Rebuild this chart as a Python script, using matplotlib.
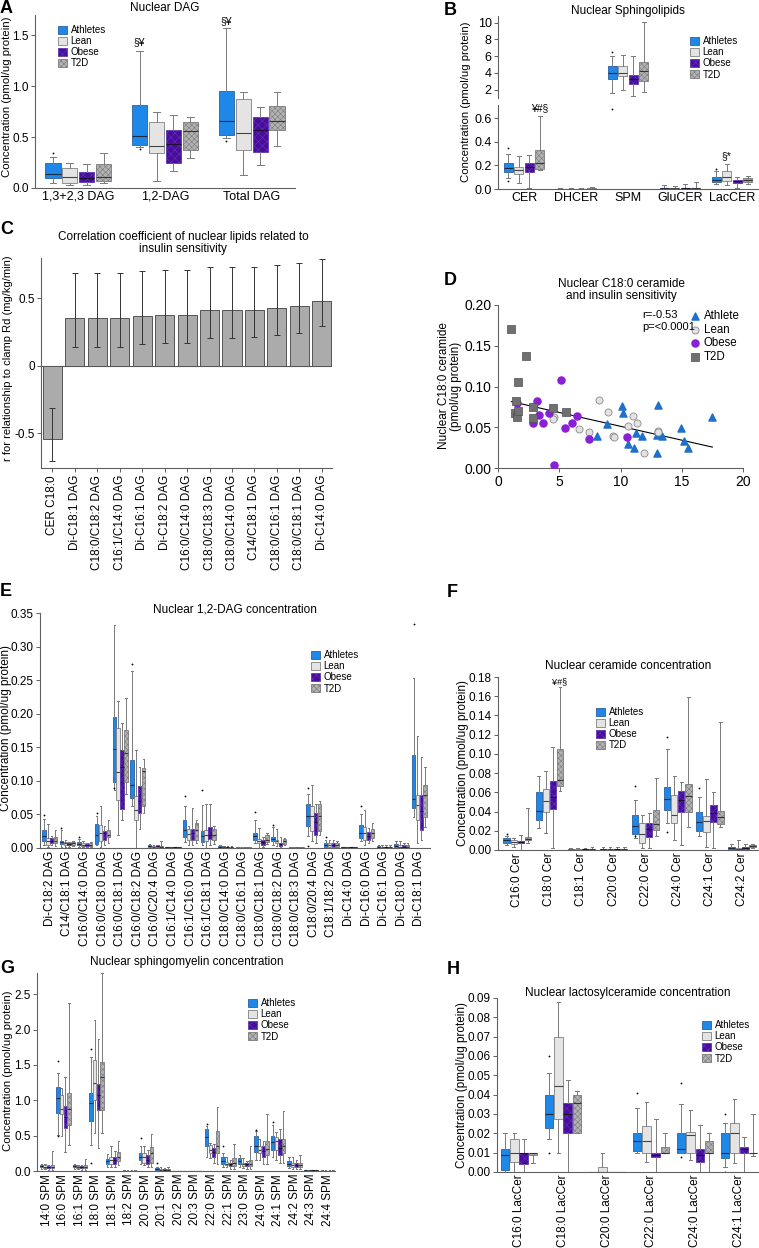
import numpy as np
import matplotlib
matplotlib.use("Agg")
import matplotlib.pyplot as plt
from matplotlib.patches import Patch

plt.rcParams['font.family'] = ['Liberation Sans', 'DejaVu Sans']
plt.rcParams['hatch.linewidth'] = 0.4

# ---------------- DATA ----------------
GROUPS = ['Athletes', 'Lean', 'Obese', 'T2D']

# box stats per category: (whisker low, q1, median, q3, whisker high)
A_categories = ['1,3+2,3 DAG', '1,2-DAG', 'Total DAG']
A_athletes = [(0.05, 0.10, 0.14, 0.25, 0.30), (0.40, 0.42, 0.51, 0.82, 1.35), (0.49, 0.52, 0.66, 0.95, 1.57)]
A_lean = [(0.03, 0.05, 0.11, 0.20, 0.25), (0.07, 0.34, 0.41, 0.65, 0.75), (0.13, 0.37, 0.54, 0.87, 0.94)]
A_obese = [(0.03, 0.06, 0.10, 0.16, 0.24), (0.17, 0.25, 0.43, 0.57, 0.72), (0.23, 0.35, 0.57, 0.70, 0.80)]
A_t2d = [(0.05, 0.07, 0.11, 0.24, 0.34), (0.29, 0.37, 0.56, 0.65, 0.70), (0.41, 0.57, 0.66, 0.81, 0.94)]
A_fliers = [(0, 0, 0.34), (0, 1, 0.38), (0, 2, 0.46)]           # (group, category, value)
A_marks = [(0, 1, '§¥', 1.43), (0, 2, '§¥', 1.64)]

B_categories = ['CER', 'DHCER', 'SPM', 'GluCER', 'LacCER']
B_athletes = [(0.09, 0.14, 0.18, 0.22, 0.30), (0.0, 0.001, 0.002, 0.003, 0.005), (1.6, 3.3, 4.0, 4.8, 6.0),
              (0.0, 0.003, 0.006, 0.01, 0.03), (0.04, 0.06, 0.075, 0.10, 0.15)]
B_lean = [(0.05, 0.13, 0.16, 0.19, 0.28), (0.0, 0.001, 0.002, 0.003, 0.005), (2.0, 3.6, 4.0, 4.8, 6.1),
          (0.0, 0.003, 0.006, 0.01, 0.025), (0.03, 0.07, 0.10, 0.15, 0.21)]
B_obese = [(0.01, 0.14, 0.19, 0.22, 0.29), (0.0, 0.001, 0.002, 0.003, 0.006), (1.2, 2.7, 3.3, 3.8, 6.0),
           (0.0, 0.003, 0.005, 0.01, 0.04), (0.01, 0.05, 0.065, 0.08, 0.10)]
B_t2d = [(0.16, 0.17, 0.22, 0.33, 0.62), (0.0, 0.001, 0.003, 0.005, 0.02), (1.7, 3.0, 4.2, 5.3, 10.1),
         (0.0, 0.003, 0.006, 0.01, 0.06), (0.04, 0.06, 0.075, 0.09, 0.11)]
B_fliers = [(0, 0, 0.35), (0, 0, 0.07), (0, 2, 6.5), (0, 2, 0.68), (0, 4, 0.17)]
B_marks = [(3, 0, '¥#§', 0.68), (1, 4, '§*', 0.28)]

C_labels = ['CER C18:0', 'Di-C18:1 DAG', 'C18:0/C18:2 DAG', 'C16:1/C14:0 DAG', 'Di-C16:1 DAG',
            'Di-C18:2 DAG', 'C16:0/C14:0 DAG', 'C18:0/C18:3 DAG', 'C18:0/C14:0 DAG', 'C14/C18:1 DAG',
            'C18:0/C16:1 DAG', 'C18:0/C18:1 DAG', 'Di-C14:0 DAG']
C_r = [-0.545, 0.356, 0.356, 0.356, 0.371, 0.378, 0.378, 0.41, 0.41, 0.415, 0.428, 0.445, 0.483]
C_lo = [-0.706, 0.139, 0.139, 0.139, 0.159, 0.169, 0.169, 0.206, 0.206, 0.211, 0.226, 0.244, 0.294]
C_hi = [-0.316, 0.687, 0.687, 0.690, 0.704, 0.709, 0.709, 0.734, 0.734, 0.736, 0.749, 0.764, 0.796]
C_yticks = [-0.5, 0, 0.5]
C_yticklabels = ['-0.5', '0', '0.5']

D_athlete_x = [8.11, 8.90, 10.10, 10.20, 10.58, 11.07, 11.29, 11.73, 12.95, 13.09, 13.36, 12.95, 14.91, 15.16, 15.51, 17.50]
D_athlete_y = [0.039, 0.054, 0.076, 0.068, 0.030, 0.025, 0.043, 0.039, 0.041, 0.077, 0.039, 0.018, 0.049, 0.033, 0.025, 0.062]
D_lean_x = [4.54, 4.49, 6.59, 7.40, 8.27, 8.98, 9.39, 9.50, 10.58, 10.99, 11.37, 11.89, 13.09, 13.09]
D_lean_y = [0.063, 0.060, 0.048, 0.044, 0.083, 0.069, 0.039, 0.038, 0.051, 0.064, 0.055, 0.018, 0.046, 0.044]
D_obese_x = [1.55, 3.16, 3.37, 2.88, 3.67, 4.16, 5.17, 5.47, 6.07, 6.48, 7.40, 4.55, 10.56]
D_obese_y = [0.080, 0.082, 0.065, 0.055, 0.055, 0.067, 0.108, 0.049, 0.055, 0.064, 0.036, 0.004, 0.038]
D_t2d_x = [1.09, 2.26, 1.66, 1.44, 1.36, 1.58, 1.66, 2.86, 2.86, 4.49, 5.58]
D_t2d_y = [0.171, 0.138, 0.105, 0.082, 0.068, 0.063, 0.070, 0.075, 0.061, 0.074, 0.069]
D_stats_text = 'r=-0.53\np=<0.0001'

E_categories = ['Di-C18:2 DAG', 'C14/C18:1 DAG', 'C16:0/C14:0 DAG', 'C16:0/C18:0 DAG', 'C16:0/C18:1 DAG',
                'C16:0/C18:2 DAG', 'C16:0/C20:4 DAG', 'C16:1/C14:0 DAG', 'C16:1/C16:0 DAG', 'C16:1/C18:1 DAG',
                'C18:0/C14:0 DAG', 'C18:0/C16:1 DAG', 'C18:0/C18:1 DAG', 'C18:0/C18:2 DAG', 'C18:0/C18:3 DAG',
                'C18:0/20:4 DAG', 'C18:1/18:2 DAG', 'Di-C14:0 DAG', 'Di-C16:0 DAG', 'Di-C16:1 DAG',
                'Di-C18:0 DAG', 'Di-C18:1 DAG']
E_athletes = [(0.005, 0.010, 0.018, 0.027, 0.043), (0.002, 0.006, 0.009, 0.011, 0.027), (0.002, 0.004, 0.006, 0.009, 0.014),
              (0.005, 0.006, 0.019, 0.036, 0.048), (0.087, 0.098, 0.147, 0.195, 0.332), (0.062, 0.074, 0.094, 0.131, 0.264),
              (0.001, 0.002, 0.003, 0.004, 0.006), (0.0, 0.0005, 0.001, 0.0015, 0.002), (0.009, 0.016, 0.027, 0.042, 0.062),
              (0.004, 0.009, 0.018, 0.026, 0.064), (0.0, 0.001, 0.002, 0.003, 0.004), (0.0, 0.0002, 0.0005, 0.001, 0.002),
              (0.008, 0.012, 0.018, 0.022, 0.042), (0.005, 0.010, 0.013, 0.017, 0.032), (0.0, 0.0002, 0.0005, 0.001, 0.002),
              (0.018, 0.033, 0.047, 0.065, 0.080), (0.001, 0.002, 0.005, 0.008, 0.012), (0.0, 0.0005, 0.001, 0.0015, 0.002),
              (0.010, 0.015, 0.022, 0.035, 0.051), (0.0, 0.001, 0.002, 0.003, 0.005), (0.0, 0.002, 0.003, 0.006, 0.010),
              (0.046, 0.060, 0.073, 0.139, 0.253)]
E_lean = [(0.002, 0.005, 0.010, 0.015, 0.036), (0.001, 0.004, 0.007, 0.009, 0.012), (0.001, 0.003, 0.005, 0.007, 0.010),
          (0.002, 0.010, 0.022, 0.035, 0.063), (0.019, 0.072, 0.113, 0.179, 0.219), (0.0, 0.042, 0.057, 0.077, 0.146),
          (0.0, 0.001, 0.002, 0.003, 0.005), (0.0, 0.0005, 0.001, 0.0015, 0.002), (0.005, 0.012, 0.021, 0.029, 0.033),
          (0.0, 0.010, 0.020, 0.027, 0.066), (0.0, 0.001, 0.0015, 0.002, 0.003), (0.0, 0.0002, 0.0005, 0.001, 0.002),
          (0.0, 0.008, 0.010, 0.013, 0.030), (0.003, 0.008, 0.010, 0.012, 0.028), (0.0, 0.0002, 0.0005, 0.001, 0.002),
          (0.010, 0.025, 0.048, 0.063, 0.094), (0.001, 0.002, 0.004, 0.007, 0.012), (0.0, 0.0005, 0.001, 0.0015, 0.002),
          (0.005, 0.012, 0.022, 0.032, 0.056), (0.0, 0.001, 0.0015, 0.002, 0.004), (0.0, 0.001, 0.002, 0.004, 0.011),
          (0.007, 0.042, 0.064, 0.079, 0.167)]
E_obese = [(0.005, 0.007, 0.011, 0.015, 0.018), (0.002, 0.004, 0.006, 0.008, 0.009), (0.002, 0.003, 0.005, 0.006, 0.008),
           (0.005, 0.012, 0.022, 0.026, 0.033), (0.042, 0.058, 0.120, 0.146, 0.186), (0.028, 0.052, 0.070, 0.092, 0.120),
           (0.001, 0.002, 0.003, 0.004, 0.005), (0.0, 0.0005, 0.001, 0.0015, 0.002), (0.005, 0.012, 0.022, 0.029, 0.060),
           (0.005, 0.013, 0.020, 0.032, 0.066), (0.0, 0.001, 0.0015, 0.002, 0.003), (0.0, 0.0002, 0.0005, 0.001, 0.002),
           (0.002, 0.005, 0.009, 0.012, 0.016), (0.002, 0.003, 0.006, 0.008, 0.016), (0.0, 0.0002, 0.0005, 0.001, 0.002),
           (0.008, 0.020, 0.038, 0.052, 0.065), (0.001, 0.002, 0.004, 0.008, 0.012), (0.0, 0.0005, 0.001, 0.0015, 0.002),
           (0.007, 0.012, 0.018, 0.024, 0.030), (0.0, 0.001, 0.0015, 0.002, 0.004), (0.0, 0.001, 0.002, 0.004, 0.008),
           (0.012, 0.027, 0.055, 0.079, 0.136)]
E_t2d = [(0.003, 0.007, 0.010, 0.016, 0.027), (0.003, 0.005, 0.007, 0.009, 0.011), (0.002, 0.003, 0.005, 0.007, 0.009),
         (0.008, 0.017, 0.020, 0.027, 0.041), (0.081, 0.098, 0.142, 0.176, 0.223), (0.052, 0.062, 0.114, 0.119, 0.132),
         (0.0, 0.001, 0.002, 0.003, 0.010), (0.0, 0.0005, 0.001, 0.0015, 0.002), (0.008, 0.012, 0.027, 0.037, 0.042),
         (0.006, 0.012, 0.020, 0.028, 0.033), (0.0, 0.001, 0.0015, 0.002, 0.003), (0.0, 0.0002, 0.0005, 0.001, 0.002),
         (0.006, 0.009, 0.012, 0.020, 0.022), (0.004, 0.006, 0.010, 0.013, 0.015), (0.0, 0.0002, 0.0005, 0.001, 0.002),
         (0.020, 0.025, 0.048, 0.065, 0.070), (0.001, 0.002, 0.004, 0.007, 0.010), (0.0, 0.0005, 0.001, 0.0015, 0.002),
         (0.010, 0.015, 0.022, 0.028, 0.037), (0.0, 0.001, 0.0015, 0.002, 0.004), (0.0, 0.001, 0.002, 0.004, 0.008),
         (0.031, 0.046, 0.079, 0.094, 0.121)]
E_fliers = [(0, 0, 0.049), (0, 1, 0.030), (0, 2, 0.016), (0, 3, 0.052), (0, 4, 0.090), (0, 5, 0.274), (0, 8, 0.077),
            (0, 9, 0.087), (0, 12, 0.054), (0, 13, 0.035), (0, 15, 0.090), (0, 15, 0.003), (0, 16, 0.016),
            (0, 18, 0.062), (0, 21, 0.333)]

F_categories = ['C16:0 Cer', 'C18:0 Cer', 'C18:1 Cer', 'C20:0 Cer', 'C22:0 Cer', 'C24:0 Cer', 'C24:1 Cer', 'C24:2 Cer']
F_athletes = [(0.005, 0.0076, 0.010, 0.012, 0.015), (0.023, 0.031, 0.041, 0.060, 0.077), (0.0, 0.0002, 0.0005, 0.001, 0.002),
              (0.0, 0.0005, 0.001, 0.0015, 0.003), (0.012, 0.017, 0.025, 0.036, 0.052), (0.028, 0.042, 0.053, 0.066, 0.105),
              (0.015, 0.020, 0.029, 0.040, 0.055), (0.0, 0.001, 0.002, 0.003, 0.006)]
F_lean = [(0.003, 0.006, 0.008, 0.010, 0.012), (0.018, 0.040, 0.051, 0.063, 0.082), (0.0, 0.0002, 0.0005, 0.001, 0.002),
          (0.0, 0.0005, 0.001, 0.0015, 0.003), (0.002, 0.007, 0.017, 0.028, 0.036), (0.010, 0.028, 0.036, 0.057, 0.077),
          (0.003, 0.019, 0.030, 0.035, 0.074), (0.0, 0.001, 0.0015, 0.002, 0.010)]
F_obese = [(0.0, 0.007, 0.008, 0.009, 0.016), (0.002, 0.043, 0.055, 0.072, 0.107), (0.0, 0.0003, 0.0007, 0.0012, 0.002),
           (0.0, 0.0005, 0.001, 0.0015, 0.003), (0.002, 0.014, 0.022, 0.028, 0.038), (0.005, 0.040, 0.052, 0.061, 0.071),
           (0.002, 0.029, 0.038, 0.047, 0.060), (0.0, 0.001, 0.002, 0.003, 0.006)]
F_t2d = [(0.007, 0.010, 0.011, 0.014, 0.044), (0.061, 0.067, 0.073, 0.105, 0.170), (0.0, 0.0005, 0.001, 0.0015, 0.003),
         (0.0, 0.0005, 0.001, 0.0015, 0.003), (0.015, 0.021, 0.027, 0.042, 0.075), (0.024, 0.040, 0.056, 0.069, 0.159),
         (0.024, 0.027, 0.034, 0.041, 0.133), (0.002, 0.003, 0.004, 0.005, 0.006)]
F_fliers = [(0, 0, 0.017), (0, 4, 0.067), (0, 4, 0.015), (0, 5, 0.118), (0, 5, 0.019), (0, 6, 0.065)]
F_marks = [(3, 1, '¥#§', 0.175)]

G_categories = ['14:0 SPM', '16:0 SPM', '16:1 SPM', '18:0 SPM', '18:1 SPM', '18:2 SPM', '20:0 SPM', '20:1 SPM',
                '20:2 SPM', '20:3 SPM', '22:0 SPM', '22:1 SPM', '23:0 SPM', '24:0 SPM', '24:1 SPM', '24:2 SPM',
                '24:3 SPM', '24:4 SPM']
G_athletes = [(0.03, 0.05, 0.07, 0.09, 0.10), (0.51, 0.82, 1.03, 1.19, 1.38), (0.03, 0.05, 0.07, 0.08, 0.10),
              (0.37, 0.71, 0.96, 1.10, 1.61), (0.05, 0.10, 0.14, 0.17, 0.24), (0.0, 0.002, 0.004, 0.006, 0.01),
              (0.10, 0.16, 0.20, 0.25, 0.36), (0.0, 0.02, 0.03, 0.04, 0.06), (0.0, 0.001, 0.002, 0.003, 0.005),
              (0.0, 0.001, 0.002, 0.003, 0.005), (0.20, 0.35, 0.48, 0.59, 0.63), (0.05, 0.10, 0.14, 0.20, 0.25),
              (0.05, 0.10, 0.14, 0.18, 0.22), (0.15, 0.27, 0.36, 0.49, 0.56), (0.20, 0.30, 0.41, 0.50, 0.65),
              (0.04, 0.07, 0.10, 0.14, 0.20), (0.0, 0.005, 0.01, 0.015, 0.02), (0.0, 0.002, 0.004, 0.006, 0.01)]
G_lean = [(0.03, 0.04, 0.06, 0.08, 0.10), (0.50, 0.80, 0.88, 1.08, 1.17), (0.03, 0.04, 0.06, 0.07, 0.09),
          (0.54, 1.00, 1.24, 1.57, 2.13), (0.05, 0.10, 0.15, 0.20, 0.36), (0.0, 0.002, 0.004, 0.006, 0.01),
          (0.08, 0.12, 0.20, 0.25, 0.36), (0.0, 0.01, 0.02, 0.03, 0.05), (0.0, 0.001, 0.002, 0.003, 0.005),
          (0.0, 0.001, 0.002, 0.003, 0.005), (0.18, 0.25, 0.30, 0.37, 0.40), (0.05, 0.08, 0.10, 0.13, 0.20),
          (0.04, 0.07, 0.10, 0.12, 0.18), (0.15, 0.25, 0.30, 0.35, 0.45), (0.15, 0.30, 0.42, 0.48, 0.55),
          (0.03, 0.06, 0.09, 0.12, 0.20), (0.0, 0.005, 0.01, 0.015, 0.02), (0.0, 0.002, 0.004, 0.006, 0.01)]
G_obese = [(0.02, 0.04, 0.06, 0.07, 0.09), (0.27, 0.61, 0.77, 0.92, 1.33), (0.02, 0.04, 0.05, 0.07, 0.09),
           (0.33, 0.86, 1.07, 1.23, 1.86), (0.05, 0.10, 0.15, 0.20, 0.28), (0.0, 0.002, 0.004, 0.006, 0.01),
           (0.05, 0.10, 0.15, 0.22, 0.30), (0.0, 0.01, 0.02, 0.03, 0.04), (0.0, 0.001, 0.002, 0.003, 0.005),
           (0.0, 0.001, 0.002, 0.003, 0.005), (0.12, 0.20, 0.27, 0.33, 0.38), (0.03, 0.07, 0.10, 0.12, 0.15),
           (0.03, 0.07, 0.10, 0.12, 0.14), (0.10, 0.20, 0.28, 0.36, 0.43), (0.12, 0.22, 0.33, 0.45, 0.60),
           (0.03, 0.06, 0.09, 0.12, 0.15), (0.0, 0.005, 0.01, 0.015, 0.02), (0.0, 0.002, 0.004, 0.006, 0.01)]
G_t2d = [(0.02, 0.04, 0.06, 0.08, 0.28), (0.37, 0.65, 0.88, 1.10, 2.37), (0.02, 0.04, 0.06, 0.08, 0.17),
         (0.54, 0.86, 1.33, 1.54, 2.80), (0.08, 0.14, 0.20, 0.27, 0.42), (0.0, 0.002, 0.004, 0.006, 0.01),
         (0.05, 0.12, 0.26, 0.34, 0.52), (0.0, 0.01, 0.02, 0.03, 0.05), (0.0, 0.001, 0.002, 0.003, 0.005),
         (0.0, 0.001, 0.002, 0.003, 0.005), (0.10, 0.25, 0.35, 0.56, 0.90), (0.03, 0.07, 0.12, 0.18, 0.38),
         (0.03, 0.07, 0.10, 0.15, 0.35), (0.10, 0.22, 0.31, 0.43, 0.80), (0.12, 0.25, 0.35, 0.45, 0.85),
         (0.03, 0.06, 0.09, 0.12, 0.23), (0.0, 0.005, 0.01, 0.015, 0.02), (0.0, 0.002, 0.004, 0.006, 0.01)]
G_fliers = [(0, 1, 1.56), (0, 1, 0.49), (0, 3, 1.72), (0, 3, 0.12), (0, 6, 0.46), (0, 7, 0.12), (0, 10, 0.66),
            (0, 11, 0.35), (0, 13, 0.58), (0, 14, 0.70)]

H_categories = ['C16:0 LacCer', 'C18:0 LacCer', 'C20:0 LacCer', 'C22:0 LacCer', 'C24:0 LacCer', 'C24:1 LacCer']
H_athletes = [(0.0, 0.0012, 0.009, 0.012, 0.020), (0.017, 0.023, 0.030, 0.040, 0.0514), (0.0, 0.0, 0.0, 0.0, 0.0),
              (0.010, 0.011, 0.016, 0.020, 0.0333), (0.010, 0.010, 0.012, 0.020, 0.035), (0.0025, 0.007, 0.010, 0.020, 0.0255)]
H_lean = [(0.0, 0.005, 0.010, 0.017, 0.020), (0.010, 0.0276, 0.0445, 0.070, 0.088), (0.0, 0.0, 0.0, 0.0025, 0.010),
          (0.005, 0.010, 0.016, 0.024, 0.036), (0.006, 0.010, 0.019, 0.0205, 0.032), (0.0045, 0.010, 0.020, 0.0255, 0.038)]
H_obese = [(0.0, 0.004, 0.010, 0.010, 0.017), (0.0, 0.020, 0.030, 0.0357, 0.0474), (0.0, 0.0, 0.0, 0.0, 0.0),
           (0.0, 0.008, 0.009, 0.010, 0.0275), (0.0, 0.005, 0.009, 0.012, 0.0245), (0.0, 0.010, 0.012, 0.013, 0.018)]
H_t2d = [(0.0045, 0.009, 0.010, 0.010, 0.010), (0.020, 0.020, 0.0357, 0.040, 0.042), (0.0, 0.0, 0.0, 0.0, 0.0),
         (0.010, 0.010, 0.010, 0.013, 0.020), (0.0, 0.010, 0.010, 0.016, 0.020), (0.0085, 0.010, 0.010, 0.010, 0.030)]
H_fliers = [(0, 1, 0.060), (0, 1, 0.010), (0, 3, 0.041), (0, 4, 0.046), (0, 4, 0.008), (0, 5, 0.030), (0, 5, 0.0)]

# ---------------- STYLE ----------------
FACES = ['#1E88E8', '#E4E4E4', '#4A0C9C', '#B2B2B2']
EDGES = ['#2B5E9E', '#808080', '#5E38B0', '#7A7A7A']
HATCHES = [None, None, 'xxxx', 'xxxxxx']
MEDS = ['#1a2a44', '#444444', '#1a1030', '#333333']
WHISK = '#7a7a7a'
AXC = '#606060'

W, H = 759, 1248
fig = plt.figure(figsize=(W / 100, H / 100), dpi=100)


def px_axes(x0, y0, x1, y1):
    return fig.add_axes([x0 / W, 1 - y1 / H, (x1 - x0) / W, (y1 - y0) / H])


def ftext(x, y, s, **kw):
    return fig.text(x / W, 1 - y / H, s, **kw)


def style(ax, xticklen=0):
    for s in ['top', 'right']:
        ax.spines[s].set_visible(False)
    for s in ['left', 'bottom']:
        ax.spines[s].set_color(AXC)
        ax.spines[s].set_linewidth(0.8)
    ax.tick_params(axis='y', colors=AXC, labelcolor='black', length=3, width=0.7, pad=1.5)
    ax.tick_params(axis='x', colors=AXC, labelcolor='black', length=xticklen, width=0.7, pad=2)


def draw_boxes(ax, series, fliers, step, width):
    n = len(series[0])
    for gi, stats in enumerate(series):
        pos = np.arange(n) + (gi - 1.5) * step
        items = []
        for ci, s in enumerate(stats):
            fl = [v for (g, c, v) in fliers if g == gi and c == ci]
            items.append(dict(whislo=s[0], q1=s[1], med=s[2], q3=s[3], whishi=s[4], fliers=fl))
        ax.bxp(items, positions=pos, widths=width, capwidths=width * 0.45, patch_artist=True,
               manage_ticks=False,
               boxprops=dict(facecolor=FACES[gi], edgecolor=EDGES[gi], hatch=HATCHES[gi], linewidth=0.6),
               medianprops=dict(color=MEDS[gi], linewidth=0.8),
               whiskerprops=dict(color=WHISK, linewidth=0.7),
               capprops=dict(color=WHISK, linewidth=0.7),
               flierprops=dict(marker='o', markersize=1.3, markerfacecolor='black',
                               markeredgecolor='none', linestyle='none'))


def add_marks(ax, marks, step, fs=7.5):
    for gi, ci, txt, y in marks:
        ax.text(ci + (gi - 1.5) * step, y, txt, ha='center', va='center', fontsize=fs)


def group_legend(ax, x, y, fs=7):
    handles = [Patch(facecolor=FACES[i], edgecolor=EDGES[i], hatch=HATCHES[i], linewidth=0.6)
               for i in range(4)]
    ax.legend(handles, GROUPS, loc='upper left', bbox_to_anchor=(x / W, 1 - y / H),
              bbox_transform=fig.transFigure, frameon=False, fontsize=fs, handlelength=0.9,
              handleheight=0.9, handletextpad=0.4, labelspacing=0.12, borderpad=0, borderaxespad=0)


def panel_letter(x, y, s):
    ftext(x, y, s, fontsize=13, fontweight='bold', ha='left', va='top')


FS_T = 8.5
FS_L = 8.5

# ---------------- A ----------------
axA = px_axes(35, 15, 295, 188)
style(axA)
draw_boxes(axA, [A_athletes, A_lean, A_obese, A_t2d], A_fliers, 0.195, 0.175)
add_marks(axA, A_marks, 0.195)
axA.set_xlim(-0.5, 2.5)
axA.set_ylim(0, 1.7)
axA.set_yticks([0, 0.5, 1.0, 1.5])
axA.set_yticklabels(['0.0', '0.5', '1.0', '1.5'], fontsize=8.5)
axA.set_xticks(np.arange(len(A_categories)))
axA.set_xticklabels(A_categories, fontsize=9)
group_legend(axA, 58, 25)
ftext(165, 8, 'Nuclear DAG', fontsize=FS_T, ha='center', va='center')
ftext(7, 97, 'Concentration (pmol/ug protein)', fontsize=8.2, rotation=90, ha='center', va='center')
panel_letter(0, 0, 'A')

# ---------------- B ----------------
axBt = px_axes(498, 16, 758, 98)
axBb = px_axes(498, 105, 758, 189)
B_series = [B_athletes, B_lean, B_obese, B_t2d]
for ax in (axBt, axBb):
    style(ax)
    draw_boxes(ax, B_series, B_fliers, 0.2, 0.17)
    ax.set_xlim(-0.5, 4.5)
axBt.set_ylim(1.0, 10.8)
axBt.set_yticks([2, 4, 6, 8, 10])
axBt.tick_params(axis='y', labelsize=9)
axBt.spines['bottom'].set_visible(False)
axBt.set_xticks([])
axBb.set_ylim(0, 0.71)
axBb.set_yticks([0, 0.2, 0.4, 0.6])
axBb.set_yticklabels(['0.0', '0.2', '0.4', '0.6'], fontsize=9)
axBb.set_xticks(np.arange(len(B_categories)))
axBb.set_xticklabels(B_categories, fontsize=9)
add_marks(axBb, B_marks, 0.2)
group_legend(axBt, 690, 36)
ftext(628, 11, 'Nuclear Sphingolipids', fontsize=FS_T, ha='center', va='center')
ftext(466, 102, 'Concentration (pmol/ug protein)', fontsize=8.2, rotation=90, ha='center', va='center')
panel_letter(444, 2, 'B')

# ---------------- C ----------------
axC = px_axes(41, 258, 332, 468)
style(axC, xticklen=3)
xc = np.arange(len(C_r))
r = np.array(C_r)
axC.bar(xc, r, width=0.85, color='#ABABAB', edgecolor='#555555', linewidth=0.7, zorder=2)
axC.errorbar(xc, r, yerr=[r - np.array(C_lo), np.array(C_hi) - r], fmt='none', ecolor='#333333',
             elinewidth=0.7, capsize=2, capthick=0.7, zorder=3)
axC.axhline(0, color='#555555', linewidth=0.8, zorder=1)
axC.set_xlim(-0.5, 12.45)
axC.set_ylim(-0.76, 0.80)
axC.set_yticks(C_yticks)
axC.set_yticklabels(C_yticklabels, fontsize=8.5)
axC.set_xticks(xc)
axC.set_xticklabels(C_labels, rotation=90, fontsize=8.5)
ftext(183, 243, 'Correlation coefficient of nuclear lipids related to\ninsulin sensitivity',
      fontsize=FS_T, ha='center', va='center', linespacing=1.0)
ftext(8, 358, 'r for relationship to clamp Rd (mg/kg/min)', fontsize=8, rotation=90, ha='center', va='center')
panel_letter(0, 221, 'C')

# ---------------- D ----------------
axD = px_axes(498, 305, 743, 468)
style(axD, xticklen=3)
axD.scatter(D_athlete_x, D_athlete_y, marker='^', s=26, color='#1F6FCC', edgecolors='#1F6FCC', zorder=3, label='Athlete')
axD.scatter(D_lean_x, D_lean_y, marker='o', s=26, color='#E2E2E2', edgecolors='#8a8a8a', linewidths=0.6, zorder=3, label='Lean')
axD.scatter(D_obese_x, D_obese_y, marker='o', s=26, color='#8A1FD6', edgecolors='#8A1FD6', zorder=3, label='Obese')
axD.scatter(D_t2d_x, D_t2d_y, marker='s', s=26, color='#707070', edgecolors='#505050', linewidths=0.5, zorder=3, label='T2D')
all_x = np.concatenate([D_athlete_x, D_lean_x, D_obese_x, D_t2d_x])
all_y = np.concatenate([D_athlete_y, D_lean_y, D_obese_y, D_t2d_y])
slope, icpt = np.polyfit(all_x, all_y, 1)
xl = np.array([all_x.min(), all_x.max()])
axD.plot(xl, slope * xl + icpt, color='black', linewidth=0.8, zorder=2)
axD.set_xlim(0, 20)
axD.set_ylim(0, 0.2)
axD.set_xticks([0, 5, 10, 15, 20])
axD.set_yticks([0, 0.05, 0.10, 0.15, 0.20])
axD.set_yticklabels(['0.00', '0.05', '0.10', '0.15', '0.20'], fontsize=10)
axD.tick_params(axis='x', labelsize=10)
axD.legend(loc='upper left', bbox_to_anchor=(689 / W, 1 - 310 / H), bbox_transform=fig.transFigure,
           frameon=False, fontsize=8.3, handlelength=1.0, handletextpad=0.3, labelspacing=0.15,
           borderpad=0, borderaxespad=0, scatterpoints=1)
ftext(642, 321, D_stats_text, fontsize=8, ha='left', va='center', linespacing=1.2)
ftext(621, 290, 'Nuclear C18:0 ceramide\nand insulin sensitivity', fontsize=FS_T, ha='center', va='center',
      linespacing=1.1)
ftext(450, 386, 'Nuclear C18:0 ceramide\n(pmol/ug protein)', fontsize=FS_L, rotation=90, ha='center',
      va='center', linespacing=1.05)
panel_letter(444, 272, 'D')

# ---------------- E ----------------
axE = px_axes(40, 613, 430, 848)
style(axE)
draw_boxes(axE, [E_athletes, E_lean, E_obese, E_t2d], E_fliers, 0.22, 0.2)
axE.set_xlim(-0.55, 21.6)
axE.set_ylim(0, 0.35)
axE.set_yticks(np.arange(0, 0.351, 0.05))
axE.set_yticklabels(['0.00', '0.05', '0.10', '0.15', '0.20', '0.25', '0.30', '0.35'], fontsize=8.5)
axE.set_xticks(np.arange(len(E_categories)))
axE.set_xticklabels(E_categories, rotation=90, fontsize=8.5)
group_legend(axE, 311, 650)
ftext(235, 610, 'Nuclear 1,2-DAG concentration', fontsize=FS_T, ha='center', va='center')
ftext(6, 728, 'Concentration (pmol/ug protein)', fontsize=FS_L, rotation=90, ha='center', va='center')
panel_letter(0, 583, 'E')

# ---------------- F ----------------
axF = px_axes(498, 677, 758, 850)
style(axF)
draw_boxes(axF, [F_athletes, F_lean, F_obese, F_t2d], F_fliers, 0.22, 0.2)
add_marks(axF, F_marks, 0.22, fs=6.5)
axF.set_xlim(-0.6, 7.5)
axF.set_ylim(0, 0.18)
axF.set_yticks(np.arange(0, 0.181, 0.02))
axF.set_yticklabels(['0.00', '0.02', '0.04', '0.06', '0.08', '0.10', '0.12', '0.14', '0.16', '0.18'], fontsize=8.5)
axF.set_xticks(np.arange(len(F_categories)))
axF.set_xticklabels(F_categories, rotation=90, fontsize=8.5)
group_legend(axF, 596, 707)
ftext(628, 666, 'Nuclear ceramide concentration', fontsize=FS_T, ha='center', va='center')
ftext(463, 763, 'Concentration (pmol/ug protein)', fontsize=FS_L, rotation=90, ha='center', va='center')
panel_letter(447, 584, 'F')

# ---------------- G ----------------
axG = px_axes(37, 973, 335, 1171)
style(axG)
draw_boxes(axG, [G_athletes, G_lean, G_obese, G_t2d], G_fliers, 0.22, 0.2)
axG.set_xlim(-0.6, 17.45)
axG.set_ylim(0, 2.8)
axG.set_yticks([0, 0.5, 1.0, 1.5, 2.0, 2.5])
axG.set_yticklabels(['0.0', '0.5', '1.0', '1.5', '2.0', '2.5'], fontsize=8.5)
axG.set_xticks(np.arange(len(G_categories)))
axG.set_xticklabels(G_categories, rotation=90, fontsize=8.5)
group_legend(axG, 248, 998)
ftext(187, 962, 'Nuclear sphingomyelin concentration', fontsize=FS_T, ha='center', va='center')
ftext(8, 1071, 'Concentration (pmol/ug protein)', fontsize=8.2, rotation=90, ha='center', va='center')
panel_letter(0, 960, 'G')

# ---------------- H ----------------
axH = px_axes(497, 998, 758, 1172)
style(axH)
draw_boxes(axH, [H_athletes, H_lean, H_obese, H_t2d], H_fliers, 0.21, 0.19)
axH.set_xlim(-0.5, 5.43)
axH.set_ylim(0, 0.09)
axH.set_yticks(np.arange(0, 0.091, 0.01))
axH.set_yticklabels(['0.00', '0.01', '0.02', '0.03', '0.04', '0.05', '0.06', '0.07', '0.08', '0.09'], fontsize=8.5)
axH.set_xticks(np.arange(len(H_categories)))
axH.set_xticklabels(H_categories, rotation=90, fontsize=8.5)
group_legend(axH, 702, 1020)
ftext(628, 993, 'Nuclear lactosylceramide concentration', fontsize=FS_T, ha='center', va='center')
ftext(462, 1085, 'Concentration (pmol/ug protein)', fontsize=FS_L, rotation=90, ha='center', va='center')
panel_letter(447, 961, 'H')

fig.savefig('out.png', dpi=100)
